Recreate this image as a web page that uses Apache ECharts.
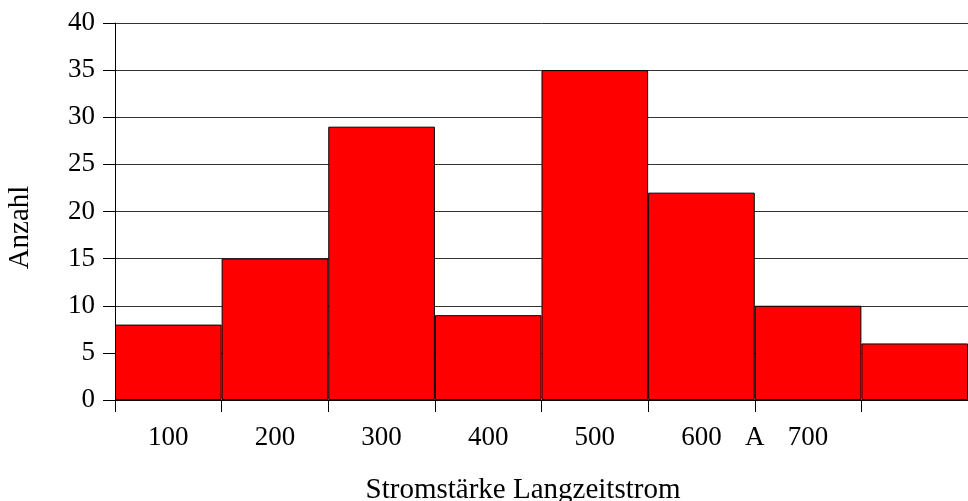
<!DOCTYPE html>
<html>
<head>
<meta charset="utf-8">
<script src="https://cdn.jsdelivr.net/npm/echarts@6/dist/echarts.min.js"></script>
<style>
html,body{margin:0;padding:0;background:#fff;}
#chart{width:968px;height:501px;}
</style>
</head>
<body>
<div id="chart"></div>
<script>
const categories = ["100","200","300","400","500","600","700",""];
const counts = [8, 15, 29, 9, 35, 22, 10, 6];
const yTicks = [0, 5, 10, 15, 20, 25, 30, 35, 40];
const extraLabel = "A";
const extraLabelBoundary = 6; // boundary index between "600" and "700" bars
const xTitle = "Stromstärke Langzeitstrom";
const yTitle = "Anzahl";

const FONT = "Liberation Serif";
const FS = 27;
const NFS = 29;
const grid = {left: 115, right: 0, top: 23, bottom: 101, outerBoundsMode: 'none', containLabel: false};

const chart = echarts.init(document.getElementById('chart'), null, {renderer: 'canvas'});
const W = 968;
const plotW = W - grid.left - grid.right;
const option = {
  animation: false,
  backgroundColor: '#fff',
  grid: grid,
  xAxis: {
    type: 'category',
    data: categories,
    boundaryGap: true,
    name: xTitle,
    nameLocation: 'middle',
    nameGap: 76,
    nameTextStyle: {fontFamily: FONT, fontSize: NFS, color: '#000', padding: [0, 37, 0, 0]},
    axisLine: {show: true, lineStyle: {color: '#000', width: 1}},
    axisTick: {show: true, length: 12, lineStyle: {color: '#000'}},
    axisLabel: {fontFamily: FONT, fontSize: FS, color: '#000', margin: 24, interval: 0},
    splitLine: {show: false}
  },
  yAxis: {
    type: 'value',
    min: yTicks[0],
    max: yTicks[yTicks.length - 1],
    interval: yTicks[1] - yTicks[0],
    name: yTitle,
    nameLocation: 'middle',
    nameGap: 80,
    nameTextStyle: {fontFamily: FONT, fontSize: NFS, color: '#000', padding: [0, 32, 0, 0]},
    axisLine: {show: true, lineStyle: {color: '#000', width: 1}},
    axisTick: {show: true, length: 12, lineStyle: {color: '#000'}},
    axisLabel: {fontFamily: FONT, fontSize: FS, color: '#000', margin: 20},
    splitLine: {show: true, lineStyle: {color: '#333', width: 1}}
  },
  series: [{
    type: 'bar',
    data: counts,
    barWidth: '100%',
    barCategoryGap: '0%',
    itemStyle: {color: '#ff0000', borderColor: '#000', borderWidth: 1}
  }],
  graphic: [{
    type: 'text',
    x: grid.left + plotW * extraLabelBoundary / categories.length,
    y: 501 - grid.bottom + 24,
    style: {text: extraLabel, font: FS + 'px "' + FONT + '"', fill: '#000', align: 'center', verticalAlign: 'top'}
  }]
};
chart.setOption(option);
</script>
</body>
</html>
